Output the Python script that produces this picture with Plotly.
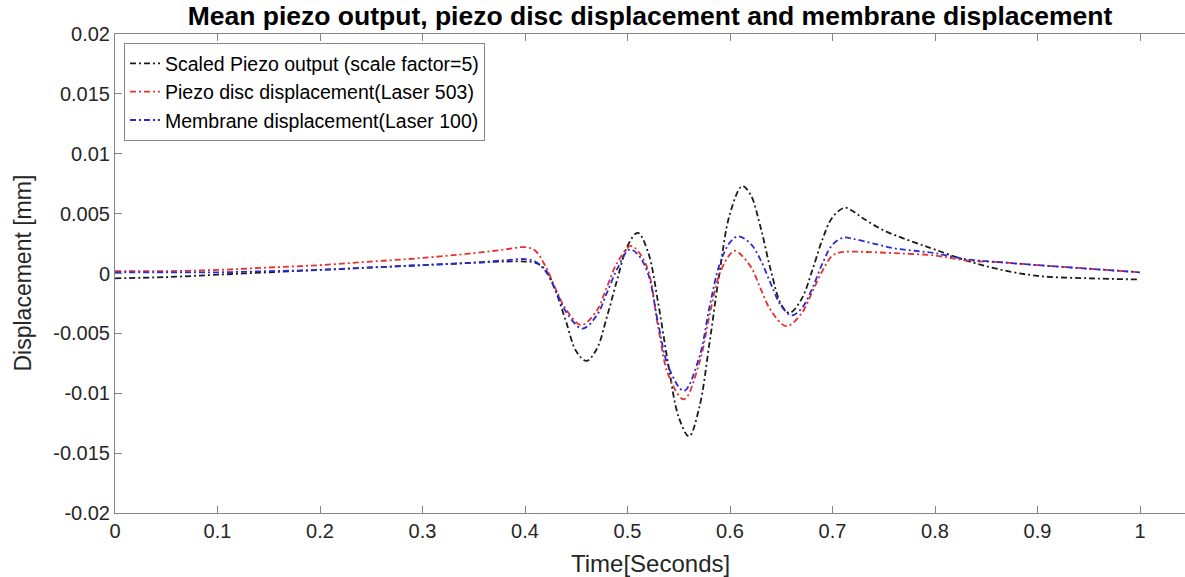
import plotly.graph_objects as go

# Scaled piezo output (scale factor = 5)
t_piezo = [0, 0.05, 0.10, 0.15, 0.20, 0.25, 0.30, 0.35, 0.38, 0.40, 0.41, 0.42, 0.43, 0.44,
           0.45, 0.46, 0.47, 0.48, 0.49, 0.50, 0.51, 0.52, 0.53, 0.54, 0.55, 0.56, 0.57, 0.58,
           0.59, 0.60, 0.612, 0.62, 0.63, 0.64, 0.65, 0.658, 0.67, 0.68, 0.69, 0.70, 0.712,
           0.72, 0.73, 0.75, 0.78, 0.80, 0.83, 0.86, 0.90, 0.95, 1.00]
v_piezo = [-0.0004, -0.0003, -0.0001, 0.0001, 0.0003, 0.0005, 0.0007, 0.0009, 0.0010, 0.0010,
           0.0009, 0.0003, -0.0015, -0.0040, -0.0065, -0.0073, -0.0063, -0.0036, -0.0005,
           0.0023, 0.0034, 0.0018, -0.0025, -0.0077, -0.0120, -0.0136, -0.0112, -0.0058,
           0.0002, 0.0050, 0.0073, 0.0066, 0.0038, 0.0002, -0.0026, -0.0033, -0.0021, 0.0002,
           0.0028, 0.0047, 0.0055, 0.0052, 0.0046, 0.0036, 0.0026, 0.0020, 0.0011, 0.0004,
           -0.0002, -0.0004, -0.0005]

# Piezo disc displacement (Laser 503)
t_disc = [0, 0.05, 0.10, 0.15, 0.20, 0.25, 0.30, 0.35, 0.38, 0.40, 0.41, 0.42, 0.43, 0.44,
          0.455, 0.47, 0.48, 0.49, 0.503, 0.51, 0.52, 0.53, 0.54, 0.555, 0.57, 0.58, 0.59,
          0.60, 0.605, 0.62, 0.63, 0.64, 0.655, 0.67, 0.68, 0.69, 0.70, 0.71, 0.73, 0.76,
          0.80, 0.83, 0.87, 0.90, 0.95, 1.00]
v_disc = [0.0002, 0.0002, 0.0003, 0.0005, 0.0007, 0.0010, 0.0013, 0.0017, 0.0020, 0.0022,
          0.0019, 0.0006, -0.0013, -0.0030, -0.0043, -0.0031, -0.0011, 0.0009, 0.0023, 0.0019,
          0.0003, -0.0045, -0.0085, -0.0105, -0.0075, -0.0035, 0.0000, 0.0016, 0.0019, 0.0006,
          -0.0013, -0.0031, -0.0044, -0.0033, -0.0016, 0.0002, 0.0015, 0.0018, 0.0018, 0.0017,
          0.0015, 0.0011, 0.0009, 0.0007, 0.0004, 0.0001]

# Membrane displacement (Laser 100)
t_membrane = [0, 0.05, 0.10, 0.15, 0.20, 0.25, 0.30, 0.35, 0.38, 0.40, 0.41, 0.42, 0.43, 0.44,
              0.456, 0.47, 0.48, 0.49, 0.502, 0.51, 0.52, 0.53, 0.54, 0.555, 0.57, 0.58, 0.59,
              0.60, 0.608, 0.62, 0.63, 0.64, 0.65, 0.66, 0.67, 0.68, 0.69, 0.70, 0.711, 0.72,
              0.74, 0.76, 0.78, 0.80, 0.83, 0.87, 0.90, 0.95, 1.00]
v_membrane = [0.0001, 0.0001, 0.0001, 0.0002, 0.0003, 0.0005, 0.0007, 0.0009, 0.0011, 0.0012,
              0.0010, 0.0002, -0.0014, -0.0032, -0.0046, -0.0035, -0.0016, 0.0004, 0.0020,
              0.0016, 0.0000, -0.0042, -0.0078, -0.0098, -0.0070, -0.0028, 0.0008, 0.0026,
              0.0031, 0.0025, 0.0011, -0.0009, -0.0027, -0.0035, -0.0029, -0.0013, 0.0008,
              0.0024, 0.0030, 0.0029, 0.0025, 0.0021, 0.0019, 0.0017, 0.0012, 0.0009, 0.0007,
              0.0004, 0.0001]

x_ticks = [0, 0.1, 0.2, 0.3, 0.4, 0.5, 0.6, 0.7, 0.8, 0.9, 1]
x_tick_text = ["0", "0.1", "0.2", "0.3", "0.4", "0.5", "0.6", "0.7", "0.8", "0.9", "1"]
y_ticks = [-0.02, -0.015, -0.01, -0.005, 0, 0.005, 0.01, 0.015, 0.02]
y_tick_text = ["-0.02", "-0.015", "-0.01", "-0.005", "0", "0.005", "0.01", "0.015", "0.02"]

FONT = "Liberation Sans, Arial, Helvetica, sans-serif"
DASH = "6px,3px,2px,3px"
AXIS_GREY = "#858585"
TEXT_DARK = "#262626"

fig = go.Figure()
series = [
    (t_piezo, v_piezo, "Scaled Piezo output (scale factor=5)", "#1c1c1c"),
    (t_disc, v_disc, "Piezo disc displacement(Laser 503)", "#e8302c"),
    (t_membrane, v_membrane, "Membrane displacement(Laser 100)", "#2b2bd6"),
]
for t, v, name, color in series:
    fig.add_trace(go.Scatter(
        x=t, y=v, mode="lines", name=name,
        line=dict(color=color, width=1.8, dash=DASH, shape="spline", smoothing=1.0),
    ))

fig.update_layout(
    width=1185, height=577, autosize=False,
    margin=dict(l=115, r=0, t=34, b=64),
    paper_bgcolor="white", plot_bgcolor="white",
    font=dict(family=FONT, color=TEXT_DARK, size=20),
    title=dict(
        text="<b>Mean piezo output, piezo disc displacement and membrane displacement</b>",
        x=0.5, xref="paper", xanchor="center",
        y=1 - 16 / 577, yref="container", yanchor="middle",
        font=dict(family=FONT, size=26.5, color="#000000"),
    ),
    legend=dict(
        x=0.0084, y=0.981, xanchor="left", yanchor="top",
        bgcolor="white", bordercolor=AXIS_GREY, borderwidth=1,
        font=dict(family=FONT, size=19.5, color="#000000"),
        tracegroupgap=0, itemwidth=30,
    ),
    showlegend=True,
)

fig.update_xaxes(
    range=[0, 1070 / 1025], tickvals=x_ticks, ticktext=x_tick_text,
    showgrid=False, zeroline=False,
    showline=True, linecolor=AXIS_GREY, linewidth=1, mirror="ticks",
    ticks="inside", ticklen=7, tickcolor=AXIS_GREY,
    tickfont=dict(family=FONT, size=20, color=TEXT_DARK),
)
fig.update_yaxes(
    range=[-0.02, 0.02], tickvals=y_ticks, ticktext=y_tick_text,
    showgrid=False, zeroline=False,
    showline=True, linecolor=AXIS_GREY, linewidth=1, mirror=False,
    ticks="inside", ticklen=7, tickcolor=AXIS_GREY,
    tickfont=dict(family=FONT, size=20, color=TEXT_DARK),
)

fig.add_annotation(
    text="Time[Seconds]", xref="paper", yref="paper",
    x=0.5, y=(513 - 563) / 479, xanchor="center", yanchor="middle",
    showarrow=False, font=dict(family=FONT, size=24, color=TEXT_DARK),
)
fig.add_annotation(
    text="Displacement [mm]", xref="paper", yref="paper",
    x=(22 - 115) / 1070, y=0.5, xanchor="center", yanchor="middle",
    textangle=-90, showarrow=False, font=dict(family=FONT, size=23, color=TEXT_DARK),
)

fig.write_html("out.html")
